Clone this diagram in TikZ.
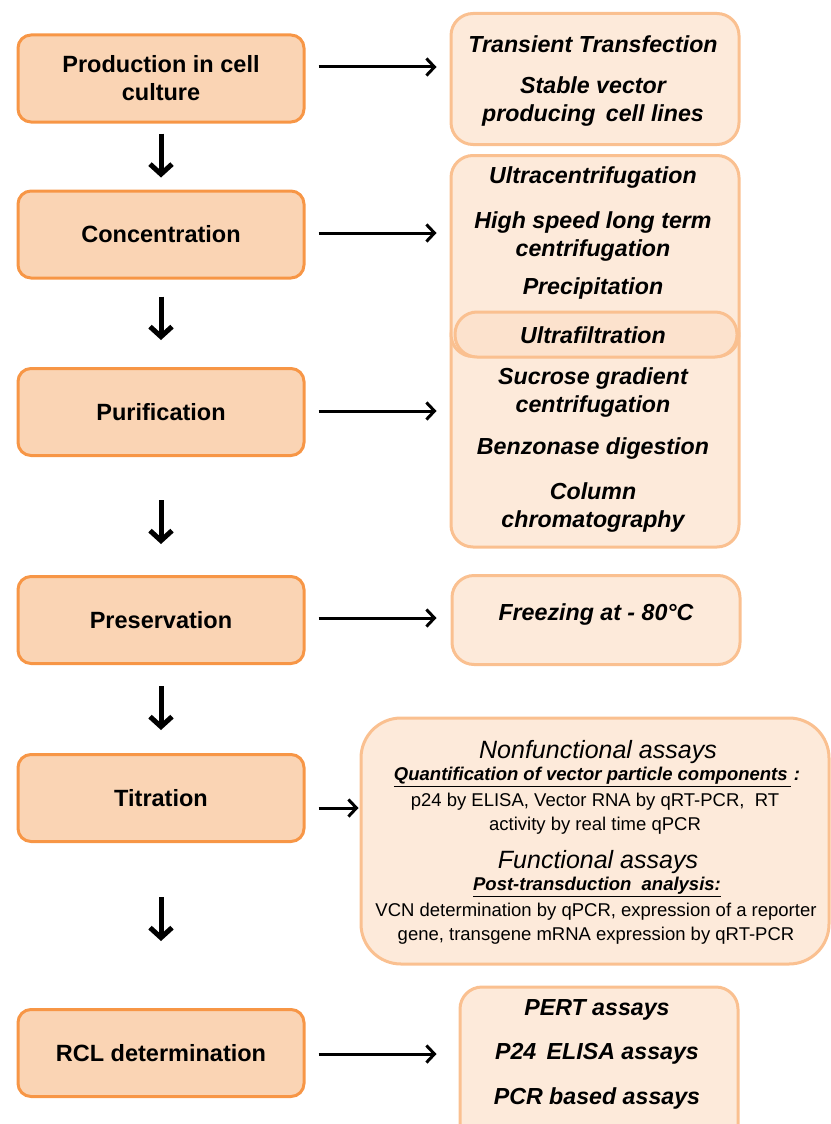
\documentclass[tikz,border=0pt]{standalone}
\usepackage{fontspec}
\setmainfont{Liberation Sans}
\usetikzlibrary{arrows.meta,calc}
\definecolor{lfill}{HTML}{FAD4B4}
\definecolor{ldraw}{HTML}{F79646}
\definecolor{rfill}{HTML}{FDEADA}
\definecolor{rdraw}{HTML}{FAC090}
\begin{document}
\begin{tikzpicture}[x=1pt,y=-1pt,
  lbox/.style={draw=ldraw,fill=lfill,line width=3pt,rounded corners=13pt,minimum width=286pt,minimum height=87pt,inner sep=0pt,align=center,font=\fontsize{23.5}{28}\selectfont\bfseries},
  rbox/.style={draw=rdraw,fill=rfill,line width=3pt,rounded corners=22pt,inner sep=0pt},
  rtxt/.style={align=center,font=\fontsize{23.2}{28}\selectfont\bfseries\itshape,inner sep=0pt},
  ttl/.style={align=center,font=\fontsize{25}{26}\selectfont\itshape,inner sep=0pt},
  sub/.style={align=center,font=\fontsize{18.5}{20}\selectfont\bfseries\itshape,inner sep=0pt},
  body/.style={align=center,font=\fontsize{18.5}{24}\selectfont,inner sep=0pt},
  harr/.style={line width=3pt,-{Straight Barb[length=8pt,width=17pt,line width=3pt]}},
  varr/.style={line width=5pt,-{Straight Barb[length=10pt,width=22pt,line width=5pt]}}]
\useasboundingbox (0,0) rectangle (830,1124);
% left boxes
\node[lbox] (L1) at (161,78.5) {Production in cell\\culture};
\node[lbox] (L2) at (161,234.5) {Concentration};
\node[lbox] (L3) at (161,412) {Purification};
\node[lbox] (L4) at (161,620) {Preservation};
\node[lbox] (L5) at (161,798) {Titration};
\node[lbox] (L6) at (161,1053) {RCL determination};
% right boxes
\node[rbox,minimum width=288pt,minimum height=131pt] (R1) at (595,79) {};
\node[rbox,minimum width=288pt,minimum height=234pt] (R3) at (595,430) {};
\node[rbox,minimum width=288pt,minimum height=201pt] (R2) at (595,256) {};
\node[draw=rdraw,fill=rfill!85!ldraw!60!rfill,line width=3pt,rounded corners=22pt,minimum width=282pt,minimum height=45pt,inner sep=0pt] (UF) at (596,334.5) {};
\node[rbox,minimum width=288pt,minimum height=89pt] (R4) at (596,620) {};
\node[rbox,minimum width=468pt,minimum height=246pt,rounded corners=40pt] (R5) at (595,841) {};
\node[rbox,minimum width=278pt,minimum height=160pt] (R6) at (599,1067) {};
% right texts
\node[rtxt] (t11) at (593,44) {Transient Transfection};
\node[rtxt] (t12) at (593,102) {Stable vector\\producing\, cell lines};
\node[rtxt] (t21) at (593,178) {Ultracentrifugation};
\node[rtxt] (t22) at (593,236) {High speed long term\\centrifugation};
\node[rtxt] (t23) at (593,288) {Precipitation};
\node[rtxt] (t24) at (593,335) {Ultrafiltration};
\node[rtxt] (t31) at (593,392.5) {Sucrose gradient\\centrifugation};
\node[rtxt] (t32) at (593,448) {Benzonase digestion};
\node[rtxt] (t33) at (593,507.5) {Column\\chromatography};
\node[rtxt] (t41) at (596,614) {Freezing at - 80°C};
\node[ttl] (t51) at (598,752) {Nonfunctional assays};
\node[sub] (t52) at (597,777) {\underline{Quantification of vector particle components\,}\,:};
\node[body] (t53) at (595,814) {p24 by ELISA, Vector RNA by qRT-PCR,\; RT\\activity by real time qPCR};
\node[ttl] (t54) at (598,862) {Functional assays};
\node[sub] (t55) at (597,887) {\underline{Post-transduction\; analysis:}};
\node[body] (t56) at (596,924) {VCN determination by qPCR, expression of a reporter\\gene, transgene mRNA expression by qRT-PCR};
\node[rtxt] (t61) at (597,1010) {PERT assays};
\node[rtxt] (t62) at (597,1054) {P24\, ELISA assays};
\node[rtxt] (t63) at (597,1098) {PCR based assays};
% horizontal arrows
\draw[harr] ($(L1.east)+(13,-11.5)$) -- ($(R1.west|-L1.east)+(-13,-11.5)$);
\draw[harr] ($(L2.east)+(13,-1.5)$) -- ($(R2.west|-L2.east)+(-13,-1.5)$);
\draw[harr] ($(L3.east)+(13,-1)$) -- ($(R3.west|-L3.east)+(-13,-1)$);
\draw[harr] ($(L4.east)+(13,-2)$) -- ($(R4.west|-L4.east)+(-14,-2)$);
\draw[harr] ($(L5.east)+(13,10)$) -- ($(R5.west|-L5.east)+(-1,10)$);
\draw[harr] ($(L6.east)+(13,1)$) -- ($(R6.west|-L6.east)+(-22,1)$);
% vertical arrows
\draw[varr] ($(L1.south)+(0,10)$) -- ($(L2.north)+(0,-12)$);
\draw[varr] ($(L2.south)+(0,17)$) -- ($(L3.north)+(0,-27)$);
\draw[varr] ($(L3.south)+(0,43)$) -- ($(L4.north)+(0,-31)$);
\draw[varr] ($(L4.south)+(0,21)$) -- ($(L5.north)+(0,-23)$);
\draw[varr] ($(L5.south)+(0,54)$) -- ($(L6.north)+(0,-67)$);
\end{tikzpicture}
\end{document}
